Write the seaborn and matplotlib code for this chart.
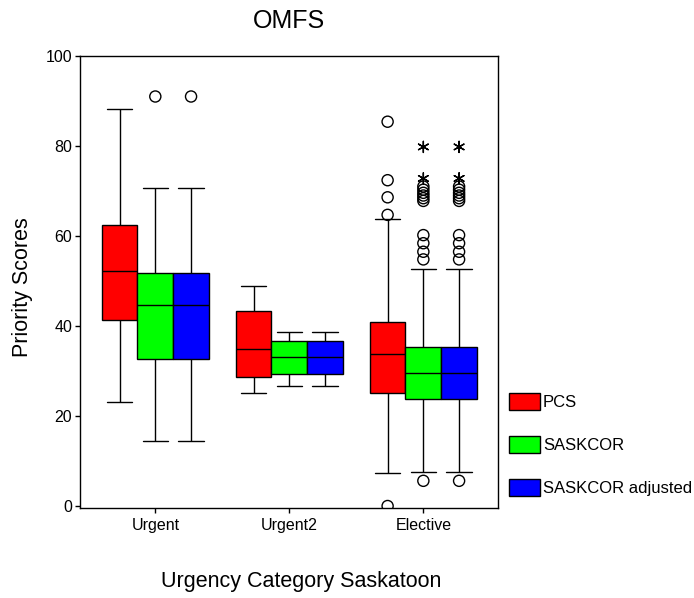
import numpy as np
import pandas as pd
import matplotlib
matplotlib.use("Agg")
import matplotlib.pyplot as plt
import seaborn as sns

categories = ["Urgent", "Urgent2", "Elective"]
groups = ["PCS", "SASKCOR", "SASKCOR adjusted"]
colors = ["#FF0000", "#00FF00", "#0000FF"]

# five-number summaries: lower whisker, Q1, median, Q3, upper whisker (per category)
pcs_stats = [[23.2, 41.3, 52.3, 62.4, 88.2],
             [25.2, 28.7, 35.0, 43.3, 49.0],
             [7.3, 25.2, 33.8, 40.8, 63.7]]
saskcor_stats = [[14.5, 32.7, 44.7, 51.7, 70.7],
                 [26.7, 29.3, 33.2, 36.7, 38.7],
                 [7.6, 23.8, 29.5, 35.4, 52.6]]
adjusted_stats = [[14.5, 32.7, 44.7, 51.7, 70.7],
                  [26.7, 29.3, 33.2, 36.7, 38.7],
                  [7.6, 23.8, 29.5, 35.4, 52.6]]

# outliers (circles) and extremes (asterisks) per category
pcs_outliers = [[], [], [85.4, 72.4, 68.6, 64.7, 0.0]]
saskcor_outliers = [[91.0], [], [71.0, 70.3, 69.6, 69.0, 68.4, 67.8,
                                 60.2, 58.4, 56.5, 54.8, 5.6]]
adjusted_outliers = [[91.0], [], [71.0, 70.3, 69.6, 69.0, 68.4, 67.8,
                                  60.2, 58.4, 56.5, 54.8, 5.6]]
pcs_extremes = [[], [], []]
saskcor_extremes = [[], [], [79.8, 72.8]]
adjusted_extremes = [[], [], [79.8, 72.8]]

stats_by_group = dict(zip(groups, [pcs_stats, saskcor_stats, adjusted_stats]))
outl_by_group = dict(zip(groups, [pcs_outliers, saskcor_outliers, adjusted_outliers]))
ext_by_group = dict(zip(groups, [pcs_extremes, saskcor_extremes, adjusted_extremes]))


def long_frame(src):
    rows = []
    for g in groups:
        for c, vals in zip(categories, src[g]):
            for v in vals:
                rows.append({"category": c, "group": g, "score": v})
    return pd.DataFrame(rows, columns=["category", "group", "score"])


box_df = long_frame(stats_by_group)
out_df = long_frame(outl_by_group)
ext_df = long_frame(ext_by_group)

sns.set_style("ticks")
plt.rcParams["font.family"] = ["Liberation Sans", "DejaVu Sans"]
plt.rcParams["text.color"] = "black"
plt.rcParams["axes.labelcolor"] = "black"
plt.rcParams["xtick.color"] = "black"
plt.rcParams["ytick.color"] = "black"

fig = plt.figure(figsize=(6.94, 5.98), dpi=100)
ax = fig.add_axes([80 / 694, 1 - 508 / 598, 418 / 694, 452 / 598])

sns.boxplot(data=box_df, x="category", y="score", hue="group",
            order=categories, hue_order=groups, palette=colors,
            saturation=1, whis=np.inf, width=0.8, gap=0,
            linecolor="black", linewidth=1, fliersize=0, ax=ax,
            capwidths=0.19)

n0 = len(ax.collections)
sns.stripplot(data=out_df, x="category", y="score", hue="group",
              order=categories, hue_order=groups, palette=colors,
              dodge=True, jitter=False, size=8, marker="o",
              legend=False, ax=ax)
for coll in ax.collections[n0:]:
    coll.set_facecolor("none")
    coll.set_edgecolor("black")
    coll.set_linewidth(1)
    coll.set_clip_on(True)

n1 = len(ax.collections)
sns.stripplot(data=ext_df, x="category", y="score", hue="group",
              order=categories, hue_order=groups, palette=colors,
              dodge=True, jitter=False, size=8, marker=(6, 2, 0),
              legend=False, ax=ax)
for coll in ax.collections[n1:]:
    coll.set_edgecolor("black")
    coll.set_linewidth(1)

ax.set_xlim(-0.562, 2.557)
ax.set_ylim(-0.44, 100)
ax.set_yticks([0, 20, 40, 60, 80, 100])

for side in ["left", "right", "top", "bottom"]:
    ax.spines[side].set_visible(True)
    ax.spines[side].set_color("black")
    ax.spines[side].set_linewidth(1)

ax.tick_params(axis="both", direction="out", length=3.5, width=1,
               color="black", labelsize=11.5, labelcolor="black")
ax.tick_params(axis="y", pad=2)
ax.tick_params(axis="x", pad=4)

ax.set_title("OMFS", fontsize=18, pad=20, color="black")
ax.set_xlabel("Urgency Category Saskatoon", fontsize=15.5, color="black")
ax.set_ylabel("Priority Scores", fontsize=15.5, color="black")
ax.xaxis.set_label_coords(0.528, -0.139)
ax.yaxis.set_label_coords(-0.112, 0.489)

handles, labels = ax.get_legend_handles_labels()
if ax.get_legend() is not None:
    ax.get_legend().remove()
leg = fig.legend(handles, labels, loc="upper left",
                 bbox_to_anchor=(509 / 694, 1 - 393 / 598),
                 frameon=False, fontsize=12, borderpad=0, borderaxespad=0,
                 handlelength=1.86, handleheight=1.2, labelspacing=1.56,
                 handletextpad=0.18)
for t in leg.get_texts():
    t.set_color("black")

fig.savefig("out.png", dpi=100)
